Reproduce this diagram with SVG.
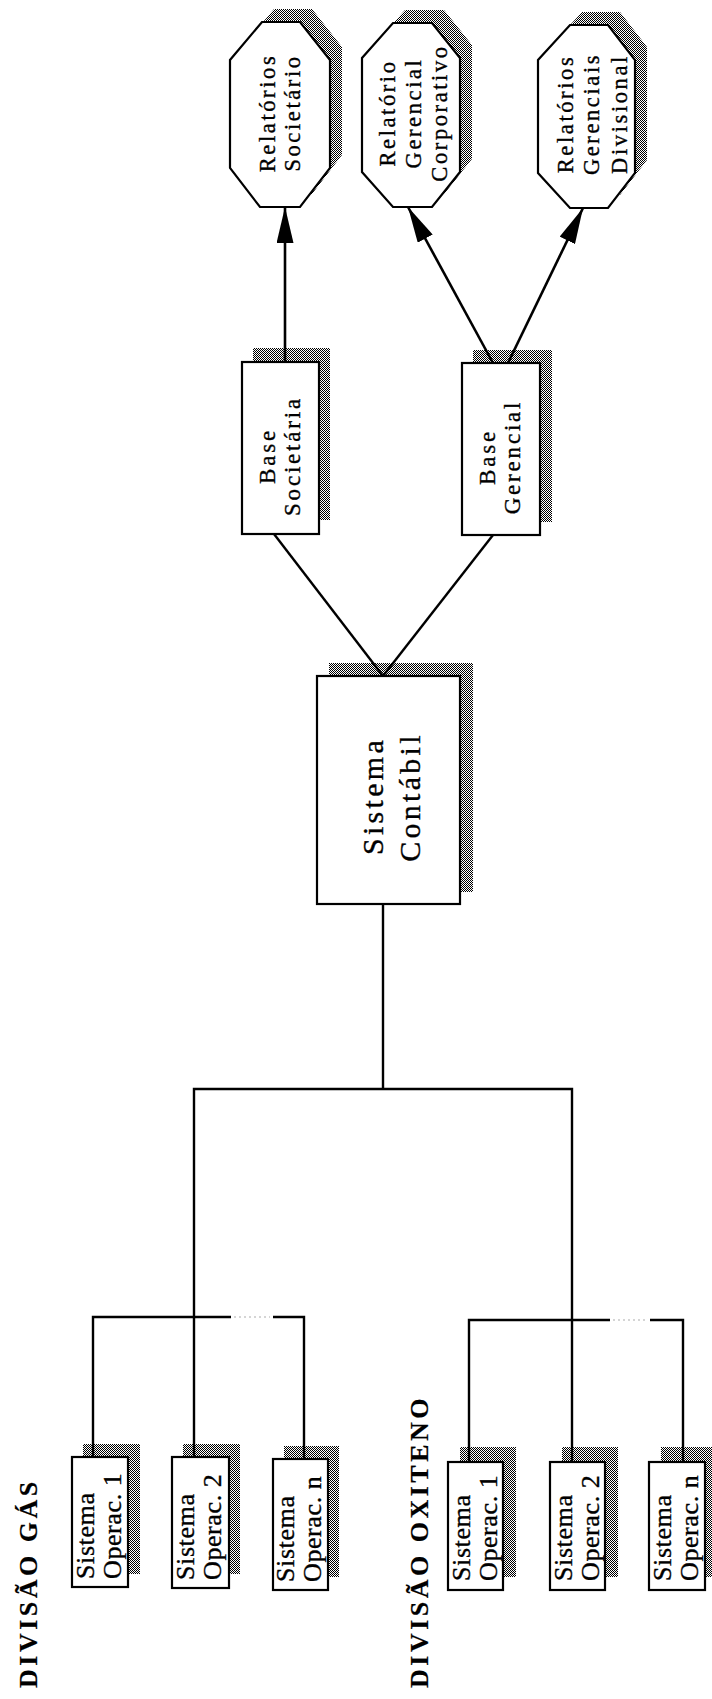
<svg xmlns="http://www.w3.org/2000/svg" width="712" height="1699" viewBox="0 0 712 1699">
<style>
  .box { fill: #fff; stroke: #000; stroke-width: 2.2; }
  .shadow { fill: url(#dither); }
  .line { fill: none; stroke: #000; stroke-width: 2.4; }
  .arrow { fill: none; stroke: #000; stroke-width: 2.6; marker-end: url(#head); }
  .faint { fill: none; stroke: #c8c8c8; stroke-width: 1.5; stroke-dasharray: 2 3; }
  .t { font-family: "Liberation Serif", "Times New Roman", serif; fill: #000; stroke: #000; stroke-width: 0.35; }
  .small { font-size: 26px; letter-spacing: 0.6px; }
  .mid { font-size: 22.5px; letter-spacing: 2.6px; text-anchor: middle; }
  .base { font-size: 23px; letter-spacing: 2.8px; text-anchor: middle; }
  .big { font-size: 30px; letter-spacing: 3.3px; text-anchor: middle; }
  .label { font-size: 26px; font-weight: bold; letter-spacing: 3.5px; stroke-width: 0.2; }
</style>
<defs>
  <pattern id="dither" width="2" height="2" patternUnits="userSpaceOnUse">
    <rect width="2" height="2" fill="#fff"/>
    <rect width="1" height="1" fill="#000"/>
    <rect x="1" y="1" width="1" height="1" fill="#000"/>
  </pattern>
  <marker id="head" viewBox="0 0 36 17" refX="36" refY="8.5" markerWidth="36" markerHeight="17" markerUnits="userSpaceOnUse" orient="auto">
    <path d="M0,0 L36,8.5 L0,17 Z" fill="#000"/>
  </marker>
</defs>
<rect width="712" height="1699" fill="#fff"/>

<!-- Reports (octagons) -->
<g id="rel-societario">
  <polygon class="shadow" points="274,9 312,9 342,47 342,155 312,194 272,194 242,155 242,47"/>
  <polygon class="box" points="262,22 300,22 330,60 330,168 300,207 260,207 230,168 230,60"/>
  <text class="t mid" transform="rotate(-90)"><tspan x="-113" y="275">Relatórios</tspan><tspan x="-113" y="300">Societário</tspan></text>
</g>
<g id="rel-gerencial-corporativo">
  <polygon class="shadow" points="405,10 444,10 472,45 472,159 444,194 405,194 374,159 374,45"/>
  <polygon class="box" points="393,23 432,23 460,58 460,172 432,207 393,207 362,172 362,58"/>
  <text class="t mid" transform="rotate(-90)"><tspan x="-113" y="395">Relatório</tspan><tspan x="-113" y="421">Gerencial</tspan><tspan x="-113" y="447">Corporativo</tspan></text>
</g>
<g id="rel-gerenciais-divisional">
  <polygon class="shadow" points="582,12 620,12 647,47 647,160 620,195 582,195 550,160 550,47"/>
  <polygon class="box" points="570,25 608,25 635,60 635,173 608,208 570,208 538,173 538,60"/>
  <text class="t mid" transform="rotate(-90)"><tspan x="-114" y="573">Relatórios</tspan><tspan x="-114" y="599">Gerenciais</tspan><tspan x="-114" y="627">Divisional</tspan></text>
</g>

<!-- Bases -->
<g id="base-societaria">
  <rect class="shadow" x="253" y="348" width="77" height="172"/>
  <rect class="box" x="242" y="362" width="77" height="172"/>
  <text class="t base" transform="rotate(-90)"><tspan x="-456" y="275">Base</tspan><tspan x="-456" y="300">Societária</tspan></text>
</g>
<g id="base-gerencial">
  <rect class="shadow" x="473" y="350" width="79" height="172"/>
  <rect class="box" x="462" y="363" width="78" height="172"/>
  <text class="t base" transform="rotate(-90)"><tspan x="-457" y="495">Base</tspan><tspan x="-457" y="520">Gerencial</tspan></text>
</g>

<!-- Sistema Contábil -->
<g id="sistema-contabil">
  <rect class="shadow" x="329" y="663" width="144" height="229"/>
  <rect class="box" x="317" y="676" width="143" height="228"/>
  <text class="t big" transform="rotate(-90)"><tspan x="-796" y="383">Sistema</tspan><tspan x="-797" y="420">Contábil</tspan></text>
</g>

<!-- Divisão Gás -->
<g id="label-gas">
  <text class="t label" transform="rotate(-90)" x="-1688" y="37">DIVISÃO GÁS</text>
</g>
<g id="gas-op1">
  <rect class="shadow" x="83" y="1444" width="57" height="130"/>
  <rect class="box" x="72" y="1457" width="56" height="130"/>
  <text class="t small" transform="rotate(-90)"><tspan x="-1579" y="94">Sistema</tspan><tspan x="-1579" y="121">Operac. 1</tspan></text>
</g>
<g id="gas-op2">
  <rect class="shadow" x="183" y="1444" width="57" height="130"/>
  <rect class="box" x="172" y="1457" width="57" height="131"/>
  <text class="t small" transform="rotate(-90)"><tspan x="-1580" y="194">Sistema</tspan><tspan x="-1580" y="221">Operac. 2</tspan></text>
</g>
<g id="gas-opn">
  <rect class="shadow" x="284" y="1446" width="55" height="131"/>
  <rect class="box" x="273" y="1459" width="55" height="131"/>
  <text class="t small" transform="rotate(-90)"><tspan x="-1582" y="294">Sistema</tspan><tspan x="-1582" y="321">Operac. n</tspan></text>
</g>

<!-- Divisão Oxiteno -->
<g id="label-oxiteno">
  <text class="t label" transform="rotate(-90)" x="-1688" y="428">DIVISÃO OXITENO</text>
</g>
<g id="oxi-op1">
  <rect class="shadow" x="460" y="1447" width="56" height="130"/>
  <rect class="box" x="448" y="1462" width="55" height="128"/>
  <text class="t small" transform="rotate(-90)"><tspan x="-1581" y="470">Sistema</tspan><tspan x="-1581" y="497">Operac. 1</tspan></text>
</g>
<g id="oxi-op2">
  <rect class="shadow" x="562" y="1447" width="56" height="130"/>
  <rect class="box" x="550" y="1462" width="55" height="128"/>
  <text class="t small" transform="rotate(-90)"><tspan x="-1581" y="572">Sistema</tspan><tspan x="-1581" y="599">Operac. 2</tspan></text>
</g>
<g id="oxi-opn">
  <rect class="shadow" x="661" y="1447" width="56" height="130"/>
  <rect class="box" x="649" y="1462" width="56" height="128"/>
  <text class="t small" transform="rotate(-90)"><tspan x="-1581" y="671">Sistema</tspan><tspan x="-1581" y="698">Operac. n</tspan></text>
</g>

<!-- Connectors -->
<g id="connectors">
  <line class="arrow" x1="285" y1="362" x2="285" y2="207"/>
  <line class="arrow" x1="493" y1="363" x2="408" y2="207"/>
  <line class="arrow" x1="508" y1="363" x2="583" y2="208"/>
  <line class="line" x1="383" y1="676" x2="274" y2="534"/>
  <line class="line" x1="383" y1="676" x2="493" y2="535"/>
  <line class="line" x1="383" y1="904" x2="383" y2="1089"/>
  <polyline class="line" points="194,1457 194,1089 572,1089 572,1462"/>
  <polyline class="line" points="93,1457 93,1317 231,1317"/>
  <line class="faint" x1="234" y1="1317" x2="270" y2="1317"/>
  <polyline class="line" points="273,1317 304,1317 304,1459"/>
  <polyline class="line" points="469,1462 469,1320 610,1320"/>
  <line class="faint" x1="613" y1="1320" x2="647" y2="1320"/>
  <polyline class="line" points="650,1320 683,1320 683,1462"/>
</g>
</svg>
